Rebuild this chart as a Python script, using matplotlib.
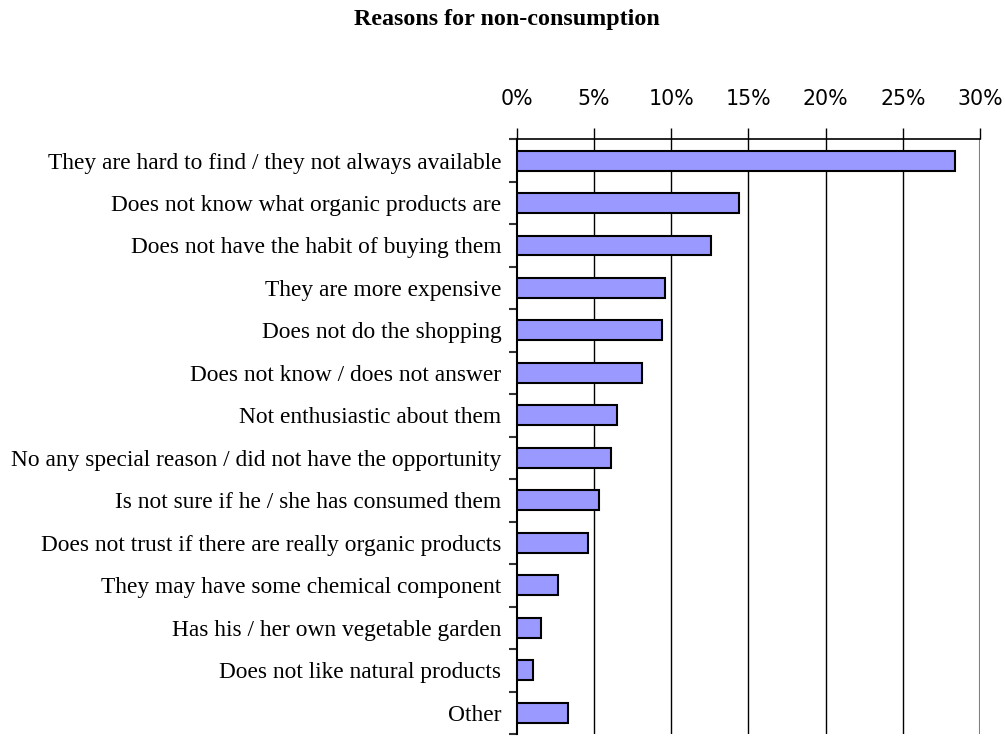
import matplotlib
matplotlib.use("Agg")
import matplotlib.pyplot as plt
import numpy as np

categories = [
    "They are hard to find / they not always available",
    "Does not know what organic products are",
    "Does not have the habit of buying them",
    "They are more expensive",
    "Does not do the shopping",
    "Does not know / does not answer",
    "Not enthusiastic about them",
    "No any special reason / did not have the opportunity",
    "Is not sure if he / she has consumed them",
    "Does not trust if there are really organic products",
    "They may have some chemical component",
    "Has his / her own vegetable garden",
    "Does not like natural products",
    "Other",
]
values = [28.4, 14.4, 12.6, 9.6, 9.4, 8.1, 6.5, 6.1, 5.35, 4.6, 2.7, 1.6, 1.05, 3.3]
tick_values = [0, 5, 10, 15, 20, 25, 30]
tick_labels = ["0%", "5%", "10%", "15%", "20%", "25%", "30%"]
title = "Reasons for non-consumption"

fig = plt.figure(figsize=(10.05, 7.37), dpi=100)
ax = fig.add_axes([0.5141, 0.004, 0.4610, 0.807])

y = np.arange(len(categories))
ax.barh(y, values, height=0.47, color="#9999FF", edgecolor="black", linewidth=1.5, zorder=3)
ax.set_ylim(len(categories) - 0.5, -0.5)
ax.set_xlim(0, 30)

ax.xaxis.tick_top()
ax.set_xticks(tick_values)
ax.set_xticklabels(tick_labels, fontsize=14.8, family="DejaVu Sans")
ax.tick_params(axis="x", direction="out", length=8, width=1, pad=14, colors="black")
for g in tick_values[1:]:
    ax.axvline(g, color="black" if g < 30 else "#808080", linewidth=1 if g < 30 else 1.5, zorder=1)

ax.set_yticks(y)
ax.set_yticklabels(categories, fontsize=16.8, family="Liberation Serif")
ax.tick_params(axis="y", length=0, pad=11)
ax.set_yticks(np.arange(len(categories) + 1) - 0.5, minor=True)
ax.tick_params(axis="y", which="minor", direction="out", length=6, width=1.5, colors="#333333")

ax.spines["bottom"].set_visible(False)
ax.spines["right"].set_visible(False)
ax.spines["left"].set_linewidth(1.5)
ax.spines["top"].set_linewidth(1.2)

fig.text(0.504, 1 - 19 / 737, title, ha="center", va="center", fontsize=17.3,
         fontweight="bold", family="Liberation Serif")

fig.savefig("out.png", dpi=100)
